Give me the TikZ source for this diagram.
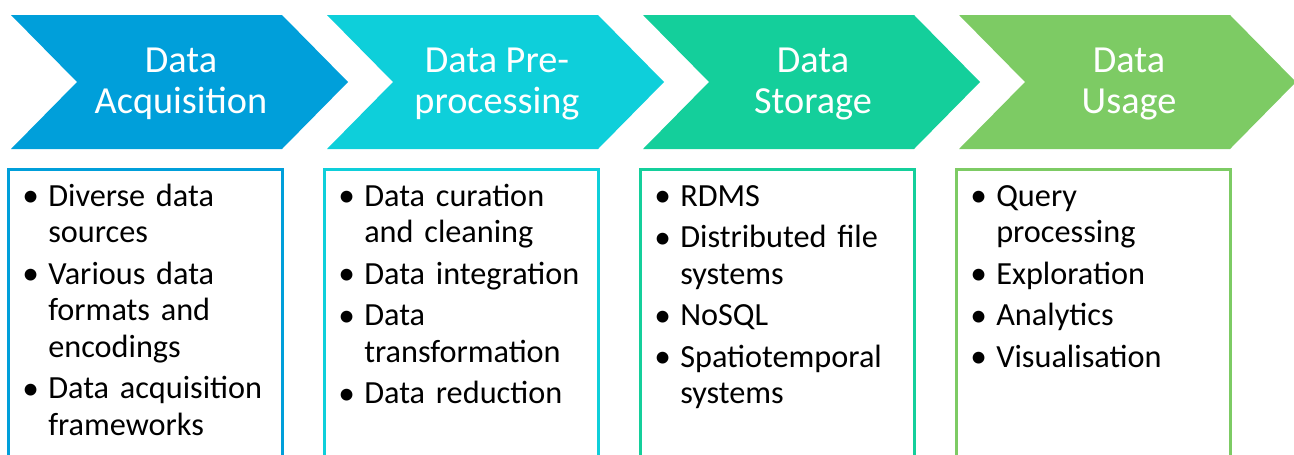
\documentclass[tikz,border=0pt]{standalone}
\usepackage{fontspec}
\setmainfont{Carlito}
\usetikzlibrary{positioning}
\definecolor{acqblue}{RGB}{0,159,218}
\definecolor{precyan}{RGB}{14,207,218}
\definecolor{stogreen}{RGB}{20,207,155}
\definecolor{usegreen}{RGB}{125,203,100}
\newcommand{\bitem}[1]{\noindent\hangindent=19.5pt\hangafter=1\makebox[19.5pt][l]{\raisebox{-0.6pt}{\fontsize{25pt}{0pt}\selectfont\textbullet}}#1\par\vspace{3.75pt}}

\begin{document}
\begin{tikzpicture}[x=0.75pt, y=-0.75pt,
  stage/.style={text=white, align=center, font=\fontsize{28.7pt}{30.75pt}\selectfont},
  itemlist/.style={anchor=base west, text width=205pt, align=left, inner sep=0pt, font=\fontsize{24.2pt}{27.4pt}\selectfont},
  listbox/.style={line width=2.25pt}]
  \useasboundingbox (0,0) rectangle (1294,454);
  \clip (0,0) rectangle (1294,454);
  \fill[acqblue] (11,15) -- (282,15) -- (348,82) -- (282,149) -- (11,149) -- (77,82) -- cycle;
  \fill[precyan] (327,15) -- (598,15) -- (664,82) -- (598,149) -- (327,149) -- (393,82) -- cycle;
  \fill[stogreen] (643,15) -- (914,15) -- (980,82) -- (914,149) -- (643,149) -- (709,82) -- cycle;
  \fill[usegreen] (959,15) -- (1230,15) -- (1296,82) -- (1230,149) -- (959,149) -- (1025,82) -- cycle;
  \node[stage] (acq) at (181,84) {Data\\Acquisition};
  \node[stage] (pre) at (497,84) {Data Pre-\\processing};
  \node[stage] (sto) at (813,84) {Data\\Storage};
  \node[stage] (use) at (1129,84) {Data\\Usage};
  \draw[listbox, draw=acqblue] (8,169) rectangle (282,470);
  \draw[listbox, draw=precyan] (324,169) rectangle (598,470);
  \draw[listbox, draw=stogreen] (640,169) rectangle (914,470);
  \draw[listbox, draw=usegreen] (956,169) rectangle (1230,470);
  \node[itemlist] (acqlist) at (22,206) {\bitem{Diverse data\newline sources}\bitem{Various data\newline formats and\newline encodings}\bitem{Data acquisition\newline frameworks}};
  \node[itemlist] (prelist) at (338,206) {\bitem{Data curation\newline and cleaning}\bitem{Data integration}\bitem{Data\newline transformation}\bitem{Data reduction}};
  \node[itemlist] (stolist) at (654,206) {\bitem{RDMS}\bitem{Distributed file\newline systems}\bitem{NoSQL}\bitem{Spatiotemporal\newline systems}};
  \node[itemlist] (uselist) at (970,206) {\bitem{Query\newline processing}\bitem{Exploration}\bitem{Analytics}\bitem{Visualisation}};
\end{tikzpicture}
\end{document}
